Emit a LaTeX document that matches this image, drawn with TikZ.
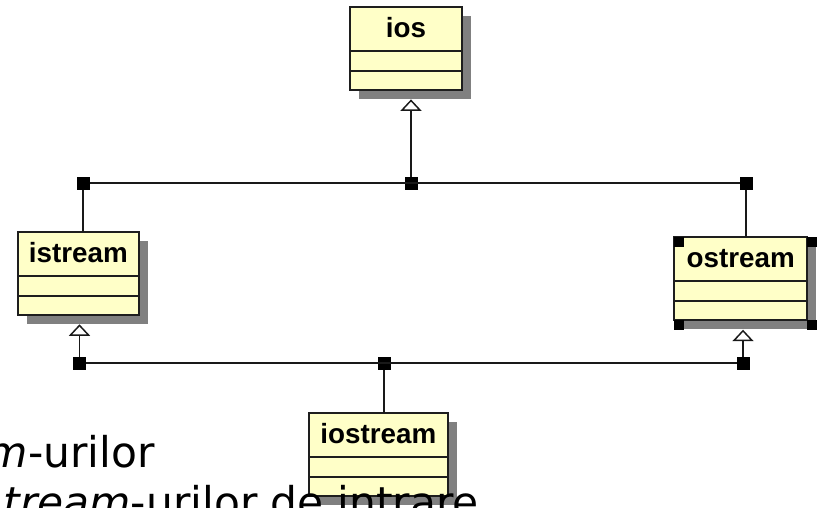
\documentclass[tikz,border=0pt]{standalone}
\usepackage{fontspec}
\setmainfont{DejaVu Sans}
\newfontfamily\umlfont{Liberation Sans}
\usetikzlibrary{arrows.meta,calc,shadows}
\definecolor{umlfill}{RGB}{255,255,200}
\definecolor{umlshadow}{RGB}{128,128,128}
\definecolor{umlline}{RGB}{30,30,30}
\begin{document}
\begin{tikzpicture}[x=0.75pt,y=-0.75pt,
 umlbox/.style={draw=umlline, line width=1.5pt, fill=umlfill, rectangle, inner sep=0pt, outer sep=0pt, minimum height=62.25pt,
   drop shadow={shadow xshift=6.75pt, shadow yshift=-6.75pt, fill=umlshadow, opacity=1}},
 compline/.style={draw=umlline, line width=1.4pt},
 umltitle/.style={font=\umlfont\bfseries\fontsize{20.85pt}{24pt}\selectfont, inner sep=0pt, anchor=base},
 junc/.style={fill=black, rectangle, minimum size=9.75pt, inner sep=0pt, outer sep=0pt},
 handle/.style={fill=black, rectangle, minimum size=7.5pt, inner sep=0pt, outer sep=0pt, anchor=north west},
 conn/.style={draw=black!90, line width=1.45pt},
 gen/.style={conn, -{Triangle[open, length=8.6pt, width=15.8pt, line width=1.1pt]}},
 slide/.style={font=\fontsize{31.8pt}{37pt}\selectfont, inner sep=0pt, anchor=base east}
]
\useasboundingbox (0,0) rectangle (823,507);
\clip (0,0) rectangle (823,507);

% class boxes
\node[umlbox, minimum width=83.8pt] (ios) at (405.9,48.4) {};
\node[umlbox, minimum width=91pt] (istream) at (78.3,273.3) {};
\node[umlbox, minimum width=99.5pt] (ostream) at (740.7,278.7) {};
\node[umlbox, minimum width=104pt] (iostream) at (378.3,454.3) {};

\foreach \b in {ios,istream,ostream,iostream}{
  \draw[compline] ($(\b.north west)+(0,44)$) -- ($(\b.north east)+(0,44)$);
  \draw[compline] ($(\b.north west)+(0,64)$) -- ($(\b.north east)+(0,64)$);
}

\node[umltitle] (iosT) at ($(ios.north)+(0,30.7)$) {ios};
\node[umltitle] (istreamT) at ($(istream.north)+(0,30.7)$) {istream};
\node[umltitle] (ostreamT) at ($(ostream.north)+(0,30.7)$) {ostream};
\node[umltitle] (iostreamT) at ($(iostream.north)+(0,30.7)$) {iostream};

% selection handles on ostream
\node[handle] (h1) at (ostream.north west) {};
\node[handle] (h2) at (ostream.north east) {};
\node[handle] (h3) at (ostream.south west) {};
\node[handle] (h4) at (ostream.south east) {};

% junctions
\node[junc] (t1) at (83,183) {};
\node[junc] (t2) at (411,183) {};
\node[junc] (t3) at (746,183) {};
\node[junc] (b1) at (79.5,363.3) {};
\node[junc] (b2) at (384,363.3) {};
\node[junc] (b3) at (743,363.3) {};

% connectors
\draw[conn] (t1) -- (t3);
\draw[conn] (t1) -- (t1 |- istream.north);
\draw[conn] (t3) -- (t3 |- ostream.north);
\draw[gen] (t2) -- ($(t2 |- ios.south)+(0,9.5)$);
\draw[conn] (b1) -- (b3);
\draw[gen] (b1) -- ($(b1 |- istream.south)+(0,9.5)$);
\draw[gen] (b3) -- ($(b3 |- ostream.south)+(0,9.5)$);
\draw[conn] (b2) -- (b2 |- iostream.north);

% slide text
\node[slide] (l1) at (155,467.5) {\textit{m}-urilor};
\node[slide] (l2) at (479,517) {\textit{tream}-urilor de intrare};
\end{tikzpicture}
\end{document}
